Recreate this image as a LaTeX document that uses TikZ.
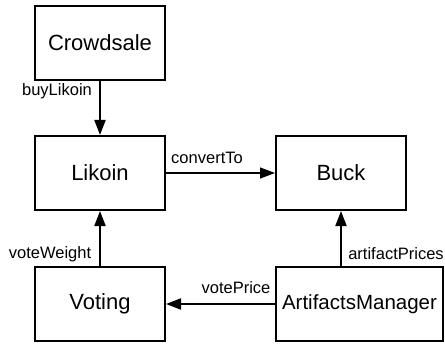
\documentclass[tikz,border=0pt]{standalone}
\usepackage{fontspec}
\setmainfont{Liberation Sans}
\usetikzlibrary{arrows.meta}
\begin{document}
\begin{tikzpicture}[x=1pt,y=-1pt,
  box/.style={draw,line width=2pt,minimum width=130pt,minimum height=74pt,inner sep=0pt,font=\fontsize{22}{24}\selectfont},
  lbl/.style={font=\fontsize{16.5}{18}\selectfont,inner sep=0pt},
  conn/.style={line width=2pt,-{Triangle[length=15pt,width=11pt]}},
  thinconn/.style={line width=1.2pt,-{Triangle[length=15pt,width=11pt]}}]
\useasboundingbox (0,0) rectangle (445,345);
\node[box] (crowd) at (100,43) {Crowdsale};
\node[box] (likoin) at (100,173) {Likoin};
\node[box] (buck) at (341,173) {Buck};
\node[box] (voting) at (100,304) {Voting};
\node[box,minimum width=167pt,font=\fontsize{20.5}{24}\selectfont] (am) at (359.5,304) {ArtifactsManager};
\draw[conn] (crowd) -- (likoin);
\draw[thinconn] (likoin) -- (buck);
\draw[conn] (voting) -- (likoin);
\draw[conn] (buck.south |- am.north) -- (buck.south);
\draw[conn] (am) -- (voting);
\node[lbl] (l1) at (57,91) {buyLikoin};
\node[lbl] (l2) at (207,158) {convertTo};
\node[lbl] (l3) at (50,254) {voteWeight};
\node[lbl] (l4) at (396,254) {artifactPrices};
\node[lbl] (l5) at (236,288) {votePrice};
\end{tikzpicture}
\end{document}
